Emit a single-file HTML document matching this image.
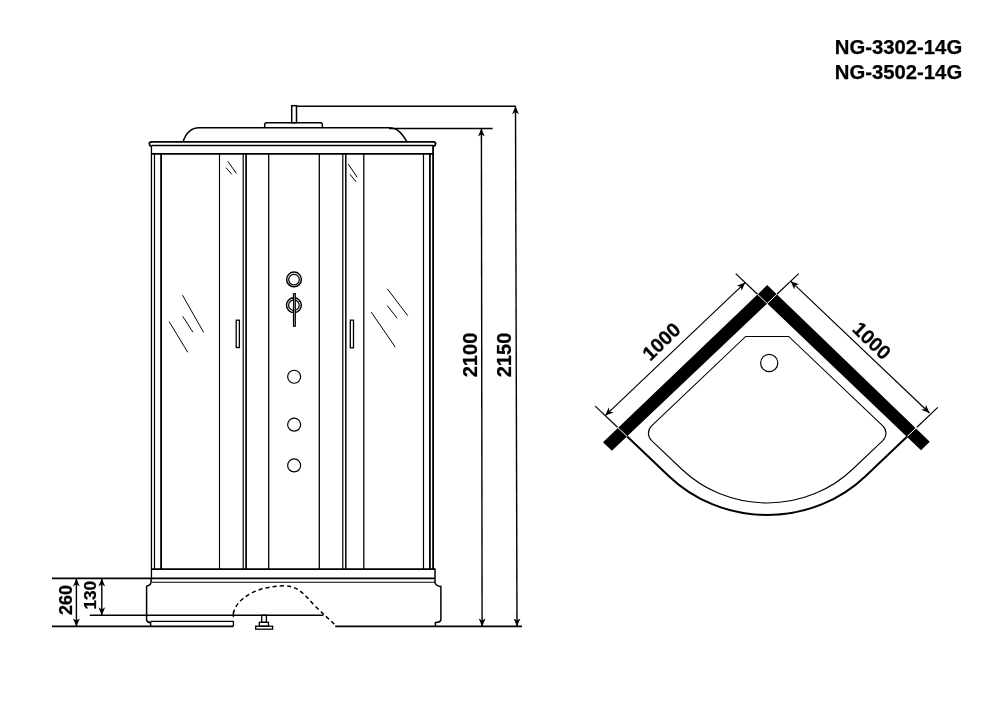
<!DOCTYPE html>
<html><head><meta charset="utf-8"><style>
html,body{margin:0;padding:0;background:#fff;}
body{width:1000px;height:707px;overflow:hidden;font-family:"Liberation Sans",sans-serif;}
svg{display:block;will-change:transform;}
</style></head><body>
<svg width="1000" height="707" viewBox="0 0 1000 707">
<rect width="1000" height="707" fill="#fff"/>
<rect x="291.7" y="105.7" width="4.8" height="17" fill="none" stroke="#000" stroke-width="1.5"/>
<path d="M264.7,127.5 L264.7,124.5 Q264.7,122.7 266.5,122.7 L320.6,122.7 Q322.4,122.7 322.4,124.5 L322.4,127.5" fill="none" stroke="#000" stroke-width="1.5"/>
<path d="M183,141.8 C186,133 191,127.7 199,127.7 L389,127.7 C397,127.7 401,132 407,141.8" fill="none" stroke="#000" stroke-width="1.5"/>
<path d="M151.5,146.5 Q149.3,145.8 149.3,143.8 Q149.3,141.9 151.5,141.9 L433.5,141.9 Q435.6,141.9 435.6,143.8 Q435.6,145.6 433.5,146.3" fill="none" stroke="#000" stroke-width="1.8"/>
<line x1="151.50" y1="145.40" x2="433.50" y2="145.40" stroke="#000" stroke-width="1.5" />
<line x1="151.45" y1="145.40" x2="151.45" y2="578.40" stroke="#000" stroke-width="1.3" />
<line x1="433.10" y1="145.40" x2="433.10" y2="569.20" stroke="#000" stroke-width="1.8" />
<line x1="151.50" y1="153.90" x2="433.10" y2="153.90" stroke="#000" stroke-width="1.8" />
<line x1="151.50" y1="569.20" x2="435.00" y2="569.20" stroke="#000" stroke-width="1.8" />
<line x1="154.50" y1="153.90" x2="154.50" y2="569.20" stroke="#000" stroke-width="1.2" />
<line x1="161.10" y1="153.90" x2="161.10" y2="569.20" stroke="#000" stroke-width="1.8" />
<line x1="219.50" y1="153.90" x2="219.50" y2="569.20" stroke="#000" stroke-width="1.1" />
<line x1="243.20" y1="153.90" x2="243.20" y2="569.20" stroke="#000" stroke-width="1.2" />
<line x1="246.10" y1="153.90" x2="246.10" y2="569.20" stroke="#000" stroke-width="1.7" />
<line x1="268.70" y1="153.90" x2="268.70" y2="569.20" stroke="#000" stroke-width="1.3" />
<line x1="319.30" y1="153.90" x2="319.30" y2="569.20" stroke="#000" stroke-width="1.3" />
<line x1="342.80" y1="153.90" x2="342.80" y2="569.20" stroke="#000" stroke-width="1.2" />
<line x1="345.80" y1="153.90" x2="345.80" y2="569.20" stroke="#000" stroke-width="1.5" />
<line x1="363.80" y1="153.90" x2="363.80" y2="569.20" stroke="#000" stroke-width="1.3" />
<line x1="423.50" y1="153.90" x2="423.50" y2="569.20" stroke="#000" stroke-width="1.2" />
<line x1="429.90" y1="153.90" x2="429.90" y2="569.20" stroke="#000" stroke-width="1.8" />
<line x1="227.80" y1="161.30" x2="236.30" y2="173.30" stroke="#000" stroke-width="1.0" />
<line x1="226.00" y1="167.70" x2="231.80" y2="174.30" stroke="#000" stroke-width="1.0" />
<line x1="182.50" y1="295.20" x2="203.70" y2="332.50" stroke="#000" stroke-width="1.0" />
<line x1="182.80" y1="316.40" x2="192.90" y2="332.20" stroke="#000" stroke-width="1.0" />
<line x1="169.10" y1="321.60" x2="187.80" y2="352.30" stroke="#000" stroke-width="1.0" />
<line x1="348.30" y1="164.10" x2="357.10" y2="177.20" stroke="#000" stroke-width="1.0" />
<line x1="350.00" y1="174.30" x2="356.10" y2="181.80" stroke="#000" stroke-width="1.0" />
<line x1="387.30" y1="288.80" x2="407.80" y2="315.70" stroke="#000" stroke-width="1.0" />
<line x1="387.30" y1="305.60" x2="397.20" y2="318.30" stroke="#000" stroke-width="1.0" />
<line x1="371.20" y1="312.10" x2="395.30" y2="347.10" stroke="#000" stroke-width="1.0" />
<rect x="236.2" y="320.2" width="3.2" height="27.3" fill="none" stroke="#000" stroke-width="1.3"/>
<rect x="350.3" y="320.2" width="3.2" height="27.6" fill="none" stroke="#000" stroke-width="1.3"/>
<circle cx="294.0" cy="279.4" r="7.35" fill="none" stroke="#000" stroke-width="1.5"/>
<circle cx="294.0" cy="279.6" r="5.3" fill="none" stroke="#000" stroke-width="1.2"/>
<circle cx="293.9" cy="305.2" r="7.4" fill="none" stroke="#000" stroke-width="1.5"/>
<circle cx="293.9" cy="305.2" r="5.3" fill="none" stroke="#000" stroke-width="1.2"/>
<rect x="293.55" y="293.75" width="1.7" height="32.4" fill="#fff" stroke="#000" stroke-width="1.3"/>
<circle cx="294.15" cy="376.75" r="6.5" fill="none" stroke="#000" stroke-width="1.2"/>
<circle cx="294.15" cy="424.7" r="6.5" fill="none" stroke="#000" stroke-width="1.2"/>
<circle cx="294.15" cy="465.4" r="6.5" fill="none" stroke="#000" stroke-width="1.2"/>
<line x1="52.00" y1="578.40" x2="435.00" y2="578.40" stroke="#000" stroke-width="1.6" />
<line x1="151.50" y1="582.20" x2="435.00" y2="582.20" stroke="#000" stroke-width="1.1" />
<path d="M151.3,578.4 L151.0,582.4 Q150.5,585.5 146.6,586.2 L146.6,620 Q147,622.3 150.6,622.6 L150.6,626.4" fill="none" stroke="#000" stroke-width="1.5"/>
<path d="M435.0,568.4 L435.0,582.6 Q435.8,585.8 440.9,586.5 L440.9,620 Q440.4,622.3 435.4,622.6 L435.4,626.4" fill="none" stroke="#000" stroke-width="1.5"/>
<line x1="89.80" y1="615.30" x2="323.40" y2="615.30" stroke="#000" stroke-width="1.5" />
<line x1="150.60" y1="621.40" x2="233.40" y2="621.40" stroke="#000" stroke-width="1.3" />
<line x1="52.00" y1="626.40" x2="233.40" y2="626.40" stroke="#000" stroke-width="1.6" />
<line x1="335.20" y1="626.40" x2="522.00" y2="626.40" stroke="#000" stroke-width="1.6" />
<line x1="233.40" y1="611.50" x2="233.40" y2="617.20" stroke="#000" stroke-width="1.3" />
<line x1="233.40" y1="621.00" x2="233.40" y2="626.40" stroke="#000" stroke-width="1.3" />
<path d="M233.4,613.6 C236,598 258,586 284,585.8 C298,586 304,594 314,605 C322,613 330,620 334.6,624.4 L335.2,626.4" fill="none" stroke="#000" stroke-width="1.5" stroke-dasharray="4.2,3"/>
<rect x="261.7" y="615.3" width="4.7" height="7" fill="none" stroke="#000" stroke-width="1.3"/>
<rect x="259.3" y="622.3" width="9.2" height="3.9" fill="none" stroke="#000" stroke-width="1.3"/>
<rect x="255.7" y="626.2" width="16.9" height="3.0" fill="none" stroke="#000" stroke-width="1.3"/>
<line x1="76.40" y1="578.40" x2="76.40" y2="626.40" stroke="#000" stroke-width="1.4" />
<polygon points="76.40,578.40 79.80,586.40 76.40,584.20 73.00,586.40" fill="#000"/>
<polygon points="76.40,626.40 73.00,618.40 76.40,620.60 79.80,618.40" fill="#000"/>
<line x1="101.80" y1="578.40" x2="101.80" y2="615.30" stroke="#000" stroke-width="1.4" />
<polygon points="101.80,578.40 105.20,586.40 101.80,584.20 98.40,586.40" fill="#000"/>
<polygon points="101.80,615.30 98.40,607.30 101.80,609.50 105.20,607.30" fill="#000"/>
<line x1="296.50" y1="106.30" x2="515.80" y2="106.30" stroke="#000" stroke-width="1.5" />
<line x1="389.00" y1="128.50" x2="492.60" y2="128.50" stroke="#000" stroke-width="1.5" />
<line x1="481.40" y1="128.50" x2="482.10" y2="626.40" stroke="#000" stroke-width="1.4" />
<polygon points="481.40,128.50 484.80,136.50 481.40,134.30 478.00,136.50" fill="#000"/>
<polygon points="482.10,626.40 478.70,618.40 482.10,620.60 485.50,618.40" fill="#000"/>
<line x1="515.50" y1="106.30" x2="517.00" y2="626.40" stroke="#000" stroke-width="1.4" />
<polygon points="515.50,106.30 518.90,114.30 515.50,112.10 512.10,114.30" fill="#000"/>
<polygon points="517.00,626.40 513.60,618.40 517.00,620.60 520.40,618.40" fill="#000"/>
<text x="0" y="0" font-family="Liberation Sans, sans-serif" font-weight="bold" stroke="#000" stroke-width="0.25" font-size="18" text-anchor="middle" dominant-baseline="central" transform="translate(65.8,600.1) rotate(-90)">260</text>
<text x="0" y="0" font-family="Liberation Sans, sans-serif" font-weight="bold" stroke="#000" stroke-width="0.25" font-size="17.3" text-anchor="middle" dominant-baseline="central" transform="translate(89.6,595.2) rotate(-90)">130</text>
<text x="0" y="0" font-family="Liberation Sans, sans-serif" font-weight="bold" stroke="#000" stroke-width="0.25" font-size="20.1" text-anchor="middle" dominant-baseline="central" transform="translate(469.5,355.0) rotate(-90)">2100</text>
<text x="0" y="0" font-family="Liberation Sans, sans-serif" font-weight="bold" stroke="#000" stroke-width="0.25" font-size="20.1" text-anchor="middle" dominant-baseline="central" transform="translate(503.6,355.0) rotate(-90)">2150</text>
<text x="834.8" y="54.2" font-family="Liberation Sans, sans-serif" font-weight="bold" stroke="#000" stroke-width="0.25" font-size="20.3">NG-3302-14G</text>
<text x="834.8" y="78.7" font-family="Liberation Sans, sans-serif" font-weight="bold" stroke="#000" stroke-width="0.25" font-size="20.3">NG-3502-14G</text>
<polygon points="603.00,442.20 767.20,285.07 929.80,441.63 921.00,450.18 767.20,303.50 611.90,450.75" fill="#000"/>
<line x1="767.20" y1="303.50" x2="756.70" y2="293.52" stroke="#fff" stroke-width="1.0" />
<line x1="767.20" y1="303.50" x2="777.70" y2="293.52" stroke="#fff" stroke-width="1.0" />
<line x1="627.20" y1="436.50" x2="616.70" y2="426.52" stroke="#fff" stroke-width="1.0" />
<line x1="907.20" y1="436.50" x2="917.70" y2="426.52" stroke="#fff" stroke-width="1.0" />
<line x1="757.50" y1="294.29" x2="735.70" y2="273.57" stroke="#000" stroke-width="1.2" />
<line x1="776.90" y1="294.29" x2="798.70" y2="273.57" stroke="#000" stroke-width="1.2" />
<line x1="617.50" y1="427.29" x2="595.20" y2="406.10" stroke="#000" stroke-width="1.2" />
<line x1="916.90" y1="427.29" x2="937.80" y2="407.43" stroke="#000" stroke-width="1.2" />
<line x1="745.20" y1="282.60" x2="605.20" y2="415.60" stroke="#000" stroke-width="1.2" />
<line x1="790.70" y1="281.18" x2="929.50" y2="413.03" stroke="#000" stroke-width="1.2" />
<polygon points="745.20,282.60 741.59,290.85 740.92,286.66 736.77,285.78" fill="#000"/>
<polygon points="605.20,415.60 608.81,407.35 609.48,411.54 613.63,412.42" fill="#000"/>
<polygon points="790.70,281.18 799.13,284.35 794.98,285.24 794.31,289.43" fill="#000"/>
<polygon points="929.50,413.03 921.07,409.86 925.22,408.97 925.89,404.78" fill="#000"/>
<path d="M627.20,436.50 L669.20,476.40 A138.60 131.67 0 0 0 865.20,476.40 L907.20,436.50" fill="none" stroke="#000" stroke-width="2.0"/>
<path d="M745.70,336.47 L788.70,336.47 L882.77,425.83 A11.00 10.45 0 0 1 882.77,440.61 L852.34,469.50 A120.40 114.38 0 0 1 682.06,469.50 L651.63,440.61 A11.00 10.45 0 0 1 651.63,425.83 Z" fill="none" stroke="#000" stroke-width="1.1"/>
<circle cx="769.2" cy="363.0" r="8.6" fill="none" stroke="#000" stroke-width="1.2"/>
<text x="0" y="0" font-family="Liberation Sans, sans-serif" font-weight="bold" stroke="#000" stroke-width="0.25" font-size="19.8" text-anchor="middle" dominant-baseline="central" transform="translate(661.2,341.4) rotate(-43.7)">1000</text>
<text x="0" y="0" font-family="Liberation Sans, sans-serif" font-weight="bold" stroke="#000" stroke-width="0.25" font-size="19.8" text-anchor="middle" dominant-baseline="central" transform="translate(871.9,340.5) rotate(43.7)">1000</text>
</svg>
</body></html>
